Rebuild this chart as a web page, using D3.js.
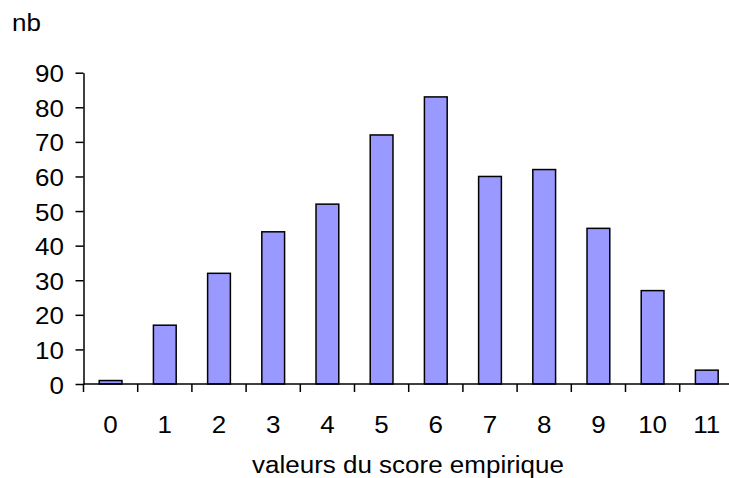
<!DOCTYPE html>
<html>
<head>
<meta charset="utf-8">
<script src="https://cdn.jsdelivr.net/npm/d3@7"></script>
<style>
  html, body { margin: 0; padding: 0; background: #fff; }
  svg { display: block; font-family: "Liberation Sans", Arial, sans-serif; }
</style>
</head>
<body>
<svg id="chart" width="729" height="478"></svg>
<script>
// Distribution of the empirical score
const categories = ["0", "1", "2", "3", "4", "5", "6", "7", "8", "9", "10", "11"];
const counts = [1, 17, 32, 44, 52, 72, 83, 60, 62, 45, 27, 4];
const yTicks = [0, 10, 20, 30, 40, 50, 60, 70, 80, 90];

const svg = d3.select("#chart");
const plotLeft = 83.5, plotTop = 72.7, plotBottom = 384;
const band = 54.2;
const plotRight = plotLeft + band * categories.length;
const fontSize = 23, stretch = 1.13;

const x = d3.scaleBand().domain(categories).range([plotLeft, plotRight]).paddingInner(0.58).paddingOuter(0.29);
const y = d3.scaleLinear().domain([0, 90]).range([plotBottom, plotTop]);

// text helper: slightly wide lettering
function label(g, tx, ty, anchor, str) {
  return g.append("text")
    .attr("transform", `translate(${tx},${ty}) scale(${stretch},1)`)
    .attr("text-anchor", anchor)
    .attr("font-size", fontSize)
    .attr("fill", "#000")
    .text(str);
}

// bars
svg.append("g").selectAll("rect")
  .data(counts)
  .join("rect")
  .attr("x", (d, i) => x(categories[i]))
  .attr("y", d => y(d))
  .attr("width", x.bandwidth())
  .attr("height", d => y(0) - y(d))
  .attr("fill", "#9999ff")
  .attr("stroke", "#000")
  .attr("stroke-width", 1.5);

// y axis
const yAxis = svg.append("g")
  .attr("transform", `translate(${plotLeft},0)`)
  .call(d3.axisLeft(y).tickValues(yTicks).tickSize(8).tickSizeOuter(0).tickFormat(""));
yAxis.select(".domain").attr("stroke-width", 1.5);
yAxis.selectAll(".tick line").attr("stroke-width", 1.5);
yAxis.selectAll(".tick text").remove();
const yLabels = svg.append("g");
yTicks.forEach(t => label(yLabels, 64, y(t) + 9.5, "end", String(t)));

// x axis: ticks sit on the band boundaries, labels at band centres
const xb = d3.scaleLinear().domain([0, categories.length]).range([plotLeft, plotRight]);
const xAxis = svg.append("g").attr("transform", `translate(0,${plotBottom})`);
xAxis.append("line").attr("x1", plotLeft).attr("x2", plotRight).attr("stroke", "#000").attr("stroke-width", 1.5);
xAxis.selectAll("line.tk")
  .data(d3.range(categories.length + 1))
  .join("line")
  .attr("class", "tk")
  .attr("x1", d => xb(d)).attr("x2", d => xb(d))
  .attr("y1", 0).attr("y2", 8)
  .attr("stroke", "#000").attr("stroke-width", 1.5);
categories.forEach(c => label(xAxis, x(c) + x.bandwidth() / 2, 49, "middle", c));

// axis titles
label(svg, 12, 31, "start", "nb");
label(svg, 408, 473, "middle", "valeurs du score empirique");
</script>
</body>
</html>
